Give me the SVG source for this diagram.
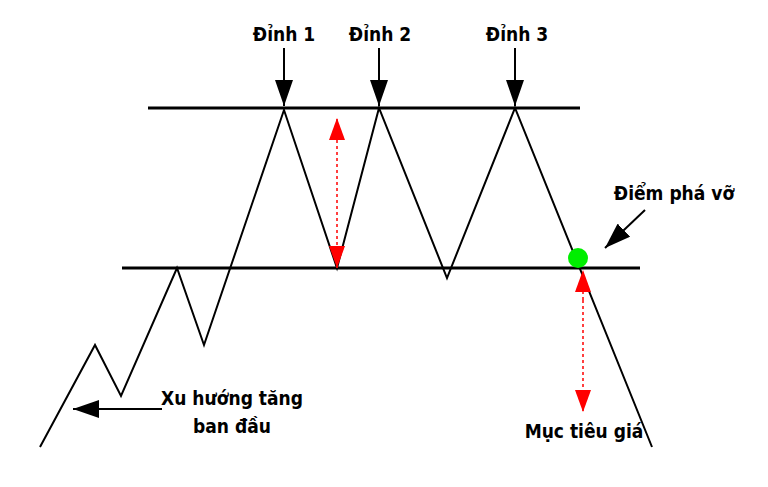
<svg xmlns="http://www.w3.org/2000/svg" width="768" height="487" viewBox="0 0 768 487">
<style>
.t{font-family:"DejaVu Sans Condensed","Liberation Sans",sans-serif;font-weight:bold;font-size:19px;fill:#000}
.k{stroke:#000;fill:none}
.r{stroke:#f00;stroke-width:1.5;stroke-dasharray:3 3}
</style>
<defs>
<marker id="bb" markerWidth="26" markerHeight="18" refX="26" refY="9" orient="auto" markerUnits="userSpaceOnUse" viewBox="0 0 26 18"><path d="M0,0L26,9L0,18z" fill="#000"/></marker>
<marker id="rh" markerWidth="22" markerHeight="16" refX="22" refY="8" orient="auto" markerUnits="userSpaceOnUse" viewBox="0 0 22 16"><path d="M0,0L22,8L0,16z" fill="#f00"/></marker>
</defs>
<rect width="768" height="487" fill="#fff"/>
<g id="levels">
<line class="k" x1="148" y1="108" x2="580" y2="108" stroke-width="3"/>
<line class="k" x1="122" y1="268" x2="640" y2="268" stroke-width="3"/>
</g>
<g id="price">
<polyline class="k" stroke-width="2" points="40,447 95,345 121,396 177,268 204,345 284,110 337,268 379,108 447,278 515,108 652,447"/>
</g>
<g id="connectors">
<line class="k" x1="284" y1="48" x2="284" y2="106" stroke-width="2" marker-end="url(#bb)"/>
<line class="k" x1="379" y1="48" x2="379" y2="106" stroke-width="2" marker-end="url(#bb)"/>
<line class="k" x1="515" y1="48" x2="515" y2="106" stroke-width="2" marker-end="url(#bb)"/>
<line class="k" x1="645" y1="210" x2="605" y2="248" stroke-width="2" marker-end="url(#bb)"/>
<line class="k" x1="162" y1="409" x2="73" y2="409" stroke-width="2" marker-end="url(#bb)"/>
<line class="r" x1="337" y1="140" x2="337" y2="118" marker-end="url(#rh)"/>
<line class="r" x1="337" y1="140" x2="337" y2="268" marker-end="url(#rh)"/>
<line class="r" x1="583" y1="300" x2="583" y2="270" marker-end="url(#rh)"/>
<line class="r" x1="583" y1="300" x2="583" y2="412" marker-end="url(#rh)"/>
</g>
<g id="breakout"><circle cx="578" cy="258" r="10" fill="#0e0"/></g>
<g id="labels">
<text class="t" x="284" y="41" text-anchor="middle">Đỉnh 1</text>
<text class="t" x="380" y="41" text-anchor="middle">Đỉnh 2</text>
<text class="t" x="517" y="41" text-anchor="middle">Đỉnh 3</text>
<text class="t" x="674" y="200" text-anchor="middle">Điểm phá vỡ</text>
<text class="t" x="584" y="438" text-anchor="middle">Mục tiêu giá</text>
<text class="t" x="232" y="405" text-anchor="middle">Xu hướng tăng</text>
<text class="t" x="232" y="433" text-anchor="middle">ban đầu</text>
</g>
</svg>
